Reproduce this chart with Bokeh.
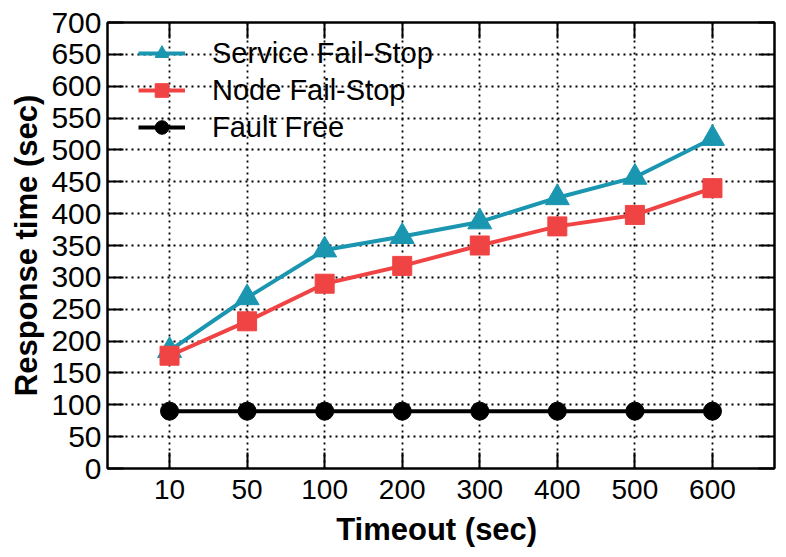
from bokeh.plotting import figure
from bokeh.models import LinearAxis, CategoricalAxis, Legend, LegendItem, SingleIntervalTicker, FactorRange
from bokeh.embed import file_html
from bokeh.resources import INLINE

timeouts = ["10", "50", "100", "200", "300", "400", "500", "600"]
service_fail_stop = [185, 268, 343, 364, 387, 425, 457, 518]
node_fail_stop = [177, 231, 290, 318, 350, 380, 398, 440]
fault_free = [90, 90, 90, 90, 90, 90, 90, 90]

teal = "#1a96b0"
red = "#f04444"

xr = FactorRange(factors=timeouts, range_padding=0.3, range_padding_units="absolute")
p = figure(width=778, height=549, x_range=xr, y_range=(0, 700),
           output_backend="svg", toolbar_location=None,
           min_border_left=107, min_border_right=4, min_border_top=22, min_border_bottom=81)

p.outline_line_color = "black"
p.outline_line_width = 2

# grid
p.xgrid.grid_line_color = "black"
p.ygrid.grid_line_color = "black"
p.xgrid.grid_line_dash = "2 4"
p.ygrid.grid_line_dash = "2 4"
p.xgrid.grid_line_width = 1.8
p.ygrid.grid_line_width = 1.8

p.yaxis.ticker = SingleIntervalTicker(interval=50)

font = "Liberation Sans"
for ax in [p.xaxis[0], p.yaxis[0]]:
    ax.axis_line_width = 2
    ax.axis_line_color = "black"
    ax.major_tick_in = 16
    ax.major_tick_out = 0
    ax.major_tick_line_width = 2
    ax.minor_tick_in = 0
    ax.minor_tick_out = 0
    ax.major_label_text_font = font
    ax.major_label_text_color = "black"
    ax.axis_label_text_font = font
    ax.axis_label_text_font_style = "bold"
    ax.axis_label_text_color = "black"

p.yaxis.major_label_text_font_size = "30px"
p.xaxis.major_label_text_font_size = "28px"
p.yaxis.axis_label = "Response time (sec)"
p.xaxis.axis_label = "Timeout  (sec)"
p.yaxis.axis_label_text_font_size = "31px"
p.xaxis.axis_label_text_font_size = "31px"
p.yaxis.major_label_standoff = 6
p.xaxis.major_label_standoff = 11
p.yaxis.axis_label_standoff = 4
p.xaxis.axis_label_standoff = 10

# right and top axes: ticks only
ra = LinearAxis(ticker=SingleIntervalTicker(interval=50))
ta = CategoricalAxis()
for ax in [ra, ta]:
    ax.axis_line_width = 2
    ax.major_tick_in = 16
    ax.major_tick_out = 0
    ax.major_tick_line_width = 2
    ax.minor_tick_in = 0
    ax.minor_tick_out = 0
    ax.major_label_text_font_size = "0px"
    ax.major_label_text_alpha = 0
    ax.major_label_standoff = 0
p.add_layout(ra, "right")
p.add_layout(ta, "above")

l1 = p.line(timeouts, service_fail_stop, line_color=teal, line_width=4)
m1 = p.scatter(timeouts, service_fail_stop, marker="triangle", size=24, fill_color=teal, line_color=teal)
l2 = p.line(timeouts, node_fail_stop, line_color=red, line_width=4)
m2 = p.scatter(timeouts, node_fail_stop, marker="square", size=19, fill_color=red, line_color=red)
l3 = p.line(timeouts, fault_free, line_color="black", line_width=4)
m3 = p.scatter(timeouts, fault_free, marker="circle", size=18, fill_color="black", line_color="black")

legend = Legend(items=[
    LegendItem(label="Service Fail-Stop", renderers=[l1, m1]),
    LegendItem(label="Node Fail-Stop", renderers=[l2, m2]),
    LegendItem(label="Fault Free", renderers=[l3, m3]),
], location=(31, 324))
legend.background_fill_alpha = 0
legend.border_line_alpha = 0
legend.label_text_font = font
legend.label_text_font_size = "29px"
legend.label_text_color = "black"
legend.glyph_width = 47
legend.glyph_height = 34
legend.label_height = 34
legend.spacing = 3
legend.padding = 0
legend.margin = 0
legend.label_standoff = 27
p.add_layout(legend)

open("out.html", "w").write(file_html(p, INLINE))
